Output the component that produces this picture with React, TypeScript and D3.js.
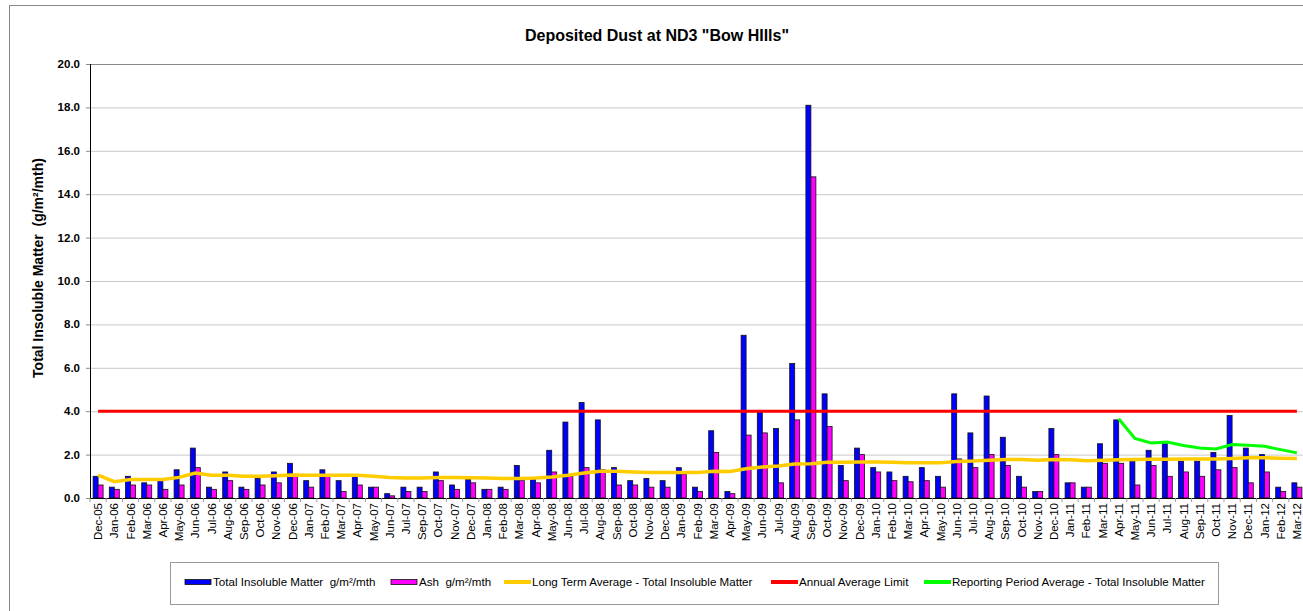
import React from "react";
import { scaleBand, scaleLinear, line, range } from "d3";

const months = [
  "Dec-05", "Jan-06", "Feb-06", "Mar-06", "Apr-06", "May-06", "Jun-06", "Jul-06", "Aug-06", "Sep-06", "Oct-06", "Nov-06", "Dec-06",
  "Jan-07", "Feb-07", "Mar-07", "Apr-07", "May-07", "Jun-07", "Jul-07", "Sep-07", "Oct-07", "Nov-07", "Dec-07",
  "Jan-08", "Feb-08", "Mar-08", "Apr-08", "May-08", "Jun-08", "Jul-08", "Aug-08", "Sep-08", "Oct-08", "Nov-08", "Dec-08",
  "Jan-09", "Feb-09", "Mar-09", "Apr-09", "May-09", "Jun-09", "Jul-09", "Aug-09", "Sep-09", "Oct-09", "Nov-09", "Dec-09",
  "Jan-10", "Feb-10", "Mar-10", "Apr-10", "May-10", "Jun-10", "Jul-10", "Aug-10", "Sep-10", "Oct-10", "Nov-10", "Dec-10",
  "Jan-11", "Feb-11", "Mar-11", "Apr-11", "May-11", "Jun-11", "Jul-11", "Aug-11", "Sep-11", "Oct-11", "Nov-11", "Dec-11",
  "Jan-12", "Feb-12", "Mar-12",
];

const totalInsoluble = [
  1.0, 0.5, 1.0, 0.7, 0.8, 1.3, 2.3, 0.5, 1.2, 0.5, 0.9, 1.2, 1.6,
  0.8, 1.3, 0.8, 1.0, 0.5, 0.2, 0.5, 0.5, 1.2, 0.6, 0.85,
  0.4, 0.5, 1.5, 0.85, 2.2, 3.5, 4.4, 3.6, 1.4, 0.8, 0.9, 0.8,
  1.4, 0.5, 3.1, 0.3, 7.5, 4.0, 3.2, 6.2, 18.1, 4.8, 1.5, 2.3,
  1.4, 1.2, 1.0, 1.4, 1.0, 4.8, 3.0, 4.7, 2.8, 1.0, 0.3, 3.2,
  0.7, 0.5, 2.5, 3.6, 1.7, 2.2, 2.5, 1.7, 1.7, 2.1, 3.8, 2.3,
  2.0, 0.5, 0.7,
];

const ash = [
  0.6, 0.4, 0.6, 0.6, 0.4, 0.6, 1.4, 0.4, 0.8, 0.4, 0.6, 0.7, 1.0,
  0.5, 1.0, 0.3, 0.6, 0.5, 0.1, 0.3, 0.3, 0.8, 0.4, 0.7,
  0.4, 0.4, 0.8, 0.7, 1.2, 1.0, 1.4, 1.3, 0.6, 0.6, 0.5, 0.5,
  1.1, 0.3, 2.1, 0.2, 2.9, 3.0, 0.7, 3.6, 14.8, 3.3, 0.8, 2.0,
  1.2, 0.8, 0.75, 0.8, 0.5, 1.8, 1.4, 2.0, 1.5, 0.5, 0.3, 2.0,
  0.7, 0.5, 1.6, 1.6, 0.6, 1.5, 1.0, 1.2, 1.0, 1.3, 1.4, 0.7,
  1.2, 0.3, 0.5,
];

const longTermAvg = [
  1.05, 0.75, 0.85, 0.85, 0.85, 0.95, 1.15, 1.05, 1.05, 1.0, 1.0, 1.03, 1.06,
  1.05, 1.05, 1.05, 1.05, 1.0, 0.95, 0.92, 0.92, 0.95, 0.95, 0.93,
  0.92, 0.9, 0.9, 0.92, 0.97, 1.05, 1.15, 1.23, 1.23, 1.2, 1.18, 1.18,
  1.18, 1.18, 1.23, 1.22, 1.35, 1.43, 1.48, 1.57, 1.58, 1.65, 1.65, 1.66,
  1.66, 1.65, 1.63, 1.62, 1.62, 1.68, 1.7, 1.74, 1.77, 1.77, 1.74, 1.77,
  1.76, 1.72, 1.74, 1.76, 1.77, 1.78, 1.78, 1.8, 1.8, 1.8, 1.82, 1.85,
  1.85, 1.83, 1.82,
];

const limit = 4.0;

// reporting period starts Apr-11
const reportingStart = "Apr-11";
const reportingAvg = [3.65, 2.74, 2.54, 2.58, 2.42, 2.3, 2.26, 2.46, 2.43, 2.38, 2.23, 2.08];

const yTicks = [0, 2, 4, 6, 8, 10, 12, 14, 16, 18, 20];

const legendItems = [
  { label: "Total Insoluble Matter\u00a0\u00a0g/m²/mth", kind: "bar", color: "#0000ff", x: 185 },
  { label: "Ash\u00a0\u00a0g/m²/mth", kind: "bar", color: "#ff00ff", x: 391 },
  { label: "Long Term Average - Total Insoluble Matter", kind: "line", color: "#ffcc00", x: 504 },
  { label: "Annual Average Limit", kind: "line", color: "#ff0000", x: 771 },
  { label: "Reporting Period Average - Total Insoluble Matter", kind: "line", color: "#00ff00", x: 924 },
];

const W = 1303;
const H = 611;
const left = 90;
const top = 64;
const bottom = 498;
const right = left + months.length * 16.2;

export default function App() {
  const x = scaleBand<string>().domain(months).range([left, right]);
  const y = scaleLinear().domain([0, 20]).range([bottom, top]);
  const inner = scaleBand<string>().domain(["tim", "ash"]).range([-5, 5]);
  const cx = (m: string) => (x(m) as number) + x.bandwidth() / 2;

  const lineGen = line<[string, number]>()
    .x((d) => cx(d[0]))
    .y((d) => y(d[1]));

  const ltPath = lineGen(months.map((m, i) => [m, longTermAvg[i]]));
  const limPath = lineGen(months.map((m) => [m, limit]));
  const rs = months.indexOf(reportingStart);
  const repPath = lineGen(reportingAvg.map((v, i) => [months[rs + i], v]));

  const font = "Arial, 'Liberation Sans', sans-serif";

  return (
    <svg width={W} height={H} style={{ position: "absolute", left: 0, top: 0, background: "#fff" }} fontFamily={font}>
      <rect x={9.5} y={5.5} width={W} height={H} fill="#fff" stroke="#888" />
      <text x={657} y={41} textAnchor="middle" fontWeight="bold" fontSize={16}>
        Deposited Dust at ND3 "Bow HIlls"
      </text>

      {/* grid */}
      {yTicks.map((t) => (
        <g key={t}>
          {t > 0 && (
            <line x1={left} x2={W} y1={y(t) + 0.5} y2={y(t) + 0.5} stroke={t === 20 ? "#888" : "#c8c8c8"} strokeWidth={1} />
          )}
          <line x1={left - 4} x2={left} y1={y(t) + 0.5} y2={y(t) + 0.5} stroke="#888" />
          <text x={80} y={y(t) + 4} textAnchor="end" fontWeight="bold" fontSize={11.5}>
            {t.toFixed(1)}
          </text>
        </g>
      ))}

      <text
        transform={`translate(43,268) rotate(-90)`}
        textAnchor="middle"
        fontWeight="bold"
        fontSize={14}
      >
        {"Total Insoluble Matter\u00a0\u00a0(g/m²/mth)"}
      </text>

      {/* bars */}
      {months.map((m, i) => (
        <g key={m} transform={`translate(${cx(m)},0)`}>
          <rect
            x={inner("tim")}
            y={y(totalInsoluble[i])}
            width={inner.bandwidth()}
            height={bottom - y(totalInsoluble[i])}
            fill="#0000ff"
            stroke="#111"
            strokeWidth={0.8}
          />
          <rect
            x={inner("ash")}
            y={y(ash[i])}
            width={inner.bandwidth()}
            height={bottom - y(ash[i])}
            fill="#ff00ff"
            stroke="#111"
            strokeWidth={0.8}
          />
        </g>
      ))}

      {/* axes */}
      <line x1={left + 0.5} x2={left + 0.5} y1={top} y2={bottom} stroke="#000" />
      <line x1={left} x2={W} y1={bottom + 0.5} y2={bottom + 0.5} stroke="#000" />
      {range(months.length + 1).map((i) => {
        const xx = left + i * x.bandwidth();
        return <line key={i} x1={xx} x2={xx} y1={bottom} y2={bottom + 4} stroke="#999" />;
      })}
      {months.map((m) => (
        <text
          key={m}
          transform={`translate(${cx(m) + 4},${bottom + 5}) rotate(-90)`}
          textAnchor="end"
          fontSize={11.5}
        >
          {m}
        </text>
      ))}

      {/* lines */}
      <path d={ltPath ?? ""} fill="none" stroke="#ffcc00" strokeWidth={3.5} />
      <path d={limPath ?? ""} fill="none" stroke="#ff0000" strokeWidth={3} />
      <path d={repPath ?? ""} fill="none" stroke="#00ff00" strokeWidth={3} />

      {/* legend */}
      <rect x={170.5} y={562.5} width={1048} height={42} fill="#fff" stroke="#999" />
      {legendItems.map((it) => (
        <g key={it.label} transform={`translate(${it.x},582)`}>
          {it.kind === "bar" ? (
            <rect x={0} y={-2.5} width={26} height={5} fill={it.color} stroke="#111" strokeWidth={0.8} />
          ) : (
            <line x1={0} x2={27} y1={0} y2={0} stroke={it.color} strokeWidth={4} />
          )}
          <text x={28} y={4} fontSize={11.6}>
            {it.label}
          </text>
        </g>
      ))}
    </svg>
  );
}
